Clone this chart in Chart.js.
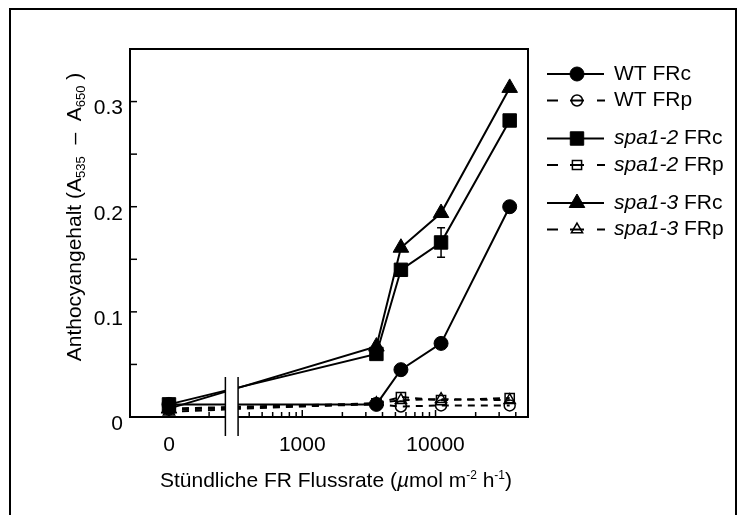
<!DOCTYPE html>
<html lang="de">
<head>
<meta charset="UTF-8">
<title>Anthocyangehalt</title>
<script src="https://cdn.jsdelivr.net/npm/chart.js"></script>
<style>
  body { margin: 0; background: #fff; }
  canvas { display: block; }
</style>
</head>
<body>
<canvas id="myChart" width="743" height="515"></canvas>
<script>
const rates = [0, 3600, 5500, 11000, 36000];   // µmol m-2 h-1
const ZERO_AT = 100;                             // "0" sitzt auf der gebrochenen log-Achse bei 100
const wtFRc    = [0.012, 0.012, 0.045, 0.070, 0.200];
const wtFRp    = [0.007, 0.012, 0.010, 0.011, 0.011];
const spa12FRc = [0.012, 0.060, 0.140, 0.166, 0.282];
const spa12FRcErr = [0, 0, 0, 0.014, 0];
const spa12FRp = [0.008, 0.013, 0.019, 0.016, 0.018];
const spa13FRc = [0.008, 0.067, 0.161, 0.194, 0.313];
const spa13FRp = [0.005, 0.013, 0.016, 0.017, 0.016];

const xTickVals   = [100, 1000, 10000];
const xTickLabels = ['0', '1000', '10000'];
const yTickLabels = ['0', '0.1', '0.2', '0.3'];
const BREAK_LO = 265, BREAK_HI = 330;

const FONT = "'Liberation Sans', Arial, Helvetica, sans-serif";

function pts(ys) {
  return rates.map((r, i) => ({ x: r === 0 ? ZERO_AT : r, y: ys[i] }));
}

function ds(label, ys, style, filled, dashed, radius) {
  return {
    label: label,
    data: pts(ys),
    borderColor: '#000',
    borderWidth: 2,
    borderDash: dashed ? [7, 6] : [],
    pointStyle: style,
    pointRadius: radius,
    pointHoverRadius: radius,
    pointBackgroundColor: filled ? '#000' : 'rgba(0,0,0,0)',
    pointBorderColor: '#000',
    pointBorderWidth: filled ? 1 : 1.5,
    tension: 0,
    clip: false
  };
}

// Legende mit Abstand zwischen den Paaren
const legendItems = [
  [['WT', false], [' FRc', false]],
  [['WT', false], [' FRp', false]],
  [['spa1-2', true], [' FRc', false]],
  [['spa1-2', true], [' FRp', false]],
  [['spa1-3', true], [' FRc', false]],
  [['spa1-3', true], [' FRp', false]]
];

const decor = {
  id: 'decor',
  beforeDraw(chart) {
    const c = chart.ctx;
    c.save();
    c.fillStyle = '#fff';
    c.fillRect(0, 0, chart.width, chart.height);
    c.strokeStyle = '#000';
    c.lineWidth = 2;
    c.strokeRect(10, 9, 726, 540);
    c.restore();
  },
  beforeDatasetsDraw(chart) {
    const c = chart.ctx, a = chart.chartArea;
    const xs = chart.scales.x, ys = chart.scales.y;
    c.save();
    c.strokeStyle = '#000';
    c.lineWidth = 2;
    c.strokeRect(a.left, a.top, a.right - a.left, a.bottom - a.top);
    c.lineWidth = 1.5;
    // y ticks (nach innen)
    ys.ticks.forEach(t => {
      const y = ys.getPixelForValue(t.value);
      c.beginPath(); c.moveTo(a.left, y); c.lineTo(a.left + 7, y); c.stroke();
    });
    // x ticks (nach innen), log-Unterteilung
    [100, 1000, 10000].forEach(d => {
      for (let k = 1; k <= 9; k++) {
        const v = k * d;
        if (v < xs.min || v > xs.max) continue;
        const x = xs.getPixelForValue(v);
        const len = k === 1 ? 7 : 5;
        c.beginPath(); c.moveTo(x, a.bottom); c.lineTo(x, a.bottom - len); c.stroke();
      }
    });
    c.restore();
  },
  afterDatasetsDraw(chart) {
    const c = chart.ctx, a = chart.chartArea;
    const xs = chart.scales.x, ys = chart.scales.y;
    c.save();
    // Fehlerbalken
    c.strokeStyle = '#000';
    c.lineWidth = 1.5;
    spa12FRcErr.forEach((e, i) => {
      if (!e) return;
      const x = xs.getPixelForValue(rates[i] === 0 ? ZERO_AT : rates[i]);
      const y1 = ys.getPixelForValue(spa12FRc[i] + e);
      const y2 = ys.getPixelForValue(spa12FRc[i] - e);
      c.beginPath();
      c.moveTo(x, y1); c.lineTo(x, y2);
      c.moveTo(x - 4, y1); c.lineTo(x + 4, y1);
      c.moveTo(x - 4, y2); c.lineTo(x + 4, y2);
      c.stroke();
    });
    // Achsenbruch
    const b1 = xs.getPixelForValue(BREAK_LO), b2 = xs.getPixelForValue(BREAK_HI);
    c.fillStyle = '#fff';
    c.fillRect(b1, a.bottom - 60, b2 - b1, 62);
    c.lineWidth = 1.5;
    c.beginPath();
    c.moveTo(b1, a.bottom - 40); c.lineTo(b1, a.bottom + 19);
    c.moveTo(b2, a.bottom - 40); c.lineTo(b2, a.bottom + 19);
    c.stroke();
    c.restore();
  },
  afterDraw(chart) {
    const c = chart.ctx;
    c.save();
    c.fillStyle = '#000';
    c.textBaseline = 'alphabetic';
    // y-Achsentitel mit Indizes
    const ySegs = [['Anthocyangehalt (A', 21, 0], ['535', 13, 4], ['  \u2013  A', 21, 0], ['650', 13, 4], [' )', 21, 0]];
    drawSegs(c, ySegs, 81, 217, -Math.PI / 2);
    // x-Achsentitel mit Exponenten
    const xSegs = [['St\u00fcndliche FR Flussrate (', 21, 0], ['\u00b5', 21, 0, true], ['mol m', 21, 0], ['-2', 12, -8], [' h', 21, 0], ['-1', 12, -8], [')', 21, 0]];
    drawSegs(c, xSegs, 336, 487, 0);
    // Legende
    legendItems.forEach((parts, i) => {
      const d = chart.data.datasets[i];
      const y = 74 + Math.floor(i / 2) * 64.5 + (i % 2) * 26.5;
      c.strokeStyle = '#000';
      c.lineWidth = 2;
      c.beginPath();
      if (d.borderDash.length) {
        c.moveTo(547, y); c.lineTo(558, y);
        c.moveTo(570, y); c.lineTo(584, y);
        c.moveTo(597, y); c.lineTo(605, y);
      } else {
        c.moveTo(547, y); c.lineTo(604, y);
      }
      c.stroke();
      c.fillStyle = d.pointBackgroundColor;
      c.lineWidth = d.pointBorderWidth;
      Chart.helpers.drawPoint(c, { pointStyle: d.pointStyle, radius: d.pointRadius, rotation: 0, borderWidth: d.pointBorderWidth }, 577, y);
      c.fillStyle = '#000';
      c.textBaseline = 'middle';
      let x = 614;
      parts.forEach(p => {
        c.font = (p[1] ? 'italic ' : '') + '21px ' + FONT;
        c.fillText(p[0], x, y);
        x += c.measureText(p[0]).width;
      });
    });
    c.restore();
  }
};

function drawSegs(c, segs, cx, cy, rot) {
  let total = 0;
  segs.forEach(s => { c.font = (s[3] ? 'italic ' : '') + s[1] + 'px ' + FONT; total += c.measureText(s[0]).width; });
  c.save();
  c.translate(cx, cy);
  c.rotate(rot);
  let x = -total / 2;
  segs.forEach(s => {
    c.font = (s[3] ? 'italic ' : '') + s[1] + 'px ' + FONT;
    c.fillText(s[0], x, s[2]);
    x += c.measureText(s[0]).width;
  });
  c.restore();
}

const ctx = document.getElementById('myChart').getContext('2d');
const myChart = new Chart(ctx, {
  type: 'line',
  data: {
    datasets: [
      ds('WT FRc', wtFRc, 'circle', true, false, 7),
      ds('WT FRp', wtFRp, 'circle', false, true, 5.5),
      ds('spa1-2 FRc', spa12FRc, 'rect', true, false, 9.5),
      ds('spa1-2 FRp', spa12FRp, 'rect', false, true, 6.5),
      ds('spa1-3 FRc', spa13FRc, 'triangle', true, false, 9),
      ds('spa1-3 FRp', spa13FRp, 'triangle', false, true, 6.5)
    ]
  },
  options: {
    responsive: false,
    animation: false,
    layout: { padding: { left: 0, top: 49, right: 215, bottom: 0 } },
    plugins: { legend: { display: false }, tooltip: { enabled: false } },
    scales: {
      x: {
        type: 'logarithmic',
        min: 51,
        max: 49400,
        grid: { display: false, drawTicks: false },
        border: { display: false },
        afterBuildTicks: s => { s.ticks = xTickVals.map(v => ({ value: v })); },
        afterFit: s => { s.height = 98; },
        ticks: {
          autoSkip: false,
          maxRotation: 0,
          padding: 16,
          color: '#000',
          font: { family: FONT, size: 21 },
          callback: v => { const i = xTickVals.indexOf(v); return i < 0 ? '' : xTickLabels[i]; }
        }
      },
      y: {
        min: 0,
        max: 0.35,
        grid: { display: false, drawTicks: false },
        border: { display: false },
        afterFit: s => { s.width = 130; },
        ticks: {
          stepSize: 0.05,
          padding: 7,
          labelOffset: 7,
          color: '#000',
          font: { family: FONT, size: 21 },
          callback: v => {
            const n = Math.round(v * 100);
            return n % 10 === 0 ? yTickLabels[n / 10] : '';
          }
        }
      }
    }
  },
  plugins: [decor]
});
</script>
</body>
</html>
